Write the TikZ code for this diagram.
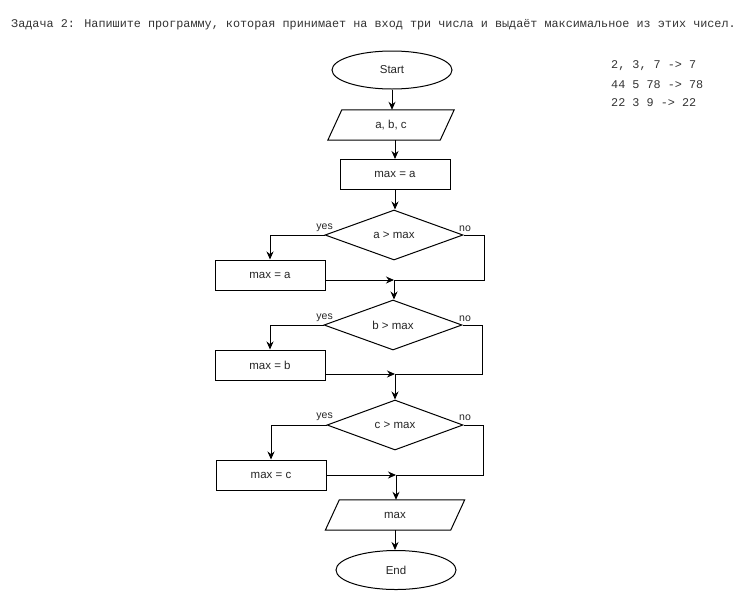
\documentclass[tikz,border=0pt]{standalone}
\usepackage{fontspec}
\setmainfont{Liberation Sans}
\newfontfamily\monofnt{Liberation Mono}
\usetikzlibrary{shapes.geometric,arrows.meta}
\begin{document}
\begin{tikzpicture}[x=1pt,y=-1pt,
  every node/.style={font=\fontsize{11.5}{13}\selectfont, text=black!85, inner sep=0pt},
  ln/.style={draw=black, line width=1pt},
  arr/.style={ln, -{Stealth[length=8pt,width=7pt]}},
  term/.style={ln, ellipse, minimum width=120, minimum height=38},
  procbox/.style={ln, rectangle, minimum width=110, minimum height=30},
  decis/.style={ln, diamond, aspect=2.76, minimum width=138, minimum height=50},
  iobox/.style={rectangle, minimum height=30},
  lbl/.style={font=\fontsize{10.5}{12}\selectfont},
  mono/.style={font=\monofnt\fontsize{11.8}{14}\selectfont, text=black!80, anchor=west}
]
\useasboundingbox (0,0) rectangle (751,592);
\fill[white] (0,0) rectangle (751,592);

\node[mono] (title) at (11,25) {Задача 2: Напишите программу, которая принимает на вход три числа и выдаёт максимальное из этих чисел.};
\node[mono] (ex1) at (611,66) {2, 3, 7 -> 7};
\node[mono] (ex2) at (611,85) {44 5 78 -> 78};
\node[mono] (ex3) at (611,103) {22 3 9 -> 22};

\node[term] (start) at (392,70) {Start};
\node[iobox, minimum width=112] (io1) at (391,125) {a, b, c};
\draw[ln] ([xshift=7]io1.north west) -- ([xshift=7]io1.north east) -- ([xshift=-7]io1.south east) -- ([xshift=-7]io1.south west) -- cycle;
\node[procbox] (r0) at (395,174.5) {max = a};

\node[decis] (d1) at (394,235) {a > max};
\node[procbox] (r1) at (270,275) {max = a};
\node[decis] (d2) at (393,325) {b > max};
\node[procbox] (r2) at (270,365) {max = b};
\node[decis, minimum width=136] (d3) at (395,425) {c > max};
\node[procbox] (r3) at (271,475) {max = c};

\node[iobox, minimum width=125] (io2) at (395,515) {max};
\draw[ln] ([xshift=7]io2.north west) -- ([xshift=7]io2.north east) -- ([xshift=-7]io2.south east) -- ([xshift=-7]io2.south west) -- cycle;
\node[term, minimum height=39] (end) at (396,570) {End};

\coordinate (m1) at (394,280);
\coordinate (n1) at (484,280);
\coordinate (m2) at (395,374);
\coordinate (n2) at (482,374);
\coordinate (m3) at (396,475);
\coordinate (n3) at (483,475);

\draw[arr] (start.south) -- (start.south |- io1.north);
\draw[arr] ([xshift=4]io1.south) -- ([xshift=4]io1.south |- r0.north);
\draw[arr] (r0.south) -- (r0.south |- d1.north);

% decision 1
\draw[arr] (d1.west) -| (r1.north);
\draw[ln] (d1.east) -| (n1) -- (m1);
\draw[arr] (r1.east |- m1) -- (m1);
\draw[arr] (m1) -- (m1 |- d2.north);
\node[lbl, anchor=south east] (y1) at (333,232) {yes};
\node[lbl, anchor=south west] (no1) at (459,232) {no};

% decision 2
\draw[arr] (d2.west) -| (r2.north);
\draw[ln] (d2.east) -| (n2) -- (m2);
\draw[arr] (r2.east |- m2) -- (m2);
\draw[arr] (m2) -- (m2 |- d3.north);
\node[lbl, anchor=south east] (y2) at (333,322) {yes};
\node[lbl, anchor=south west] (no2) at (459,322) {no};

% decision 3
\draw[arr] (d3.west) -| (r3.north);
\draw[ln] (d3.east) -| (n3) -- (m3);
\draw[arr] (r3.east |- m3) -- (m3);
\draw[arr] (m3) -- (m3 |- io2.north);
\node[lbl, anchor=south east] (y3) at (333,421) {yes};
\node[lbl, anchor=south west] (no3) at (459,421) {no};

\draw[arr] (io2.south) -- (io2.south |- end.north);
\end{tikzpicture}
\end{document}
